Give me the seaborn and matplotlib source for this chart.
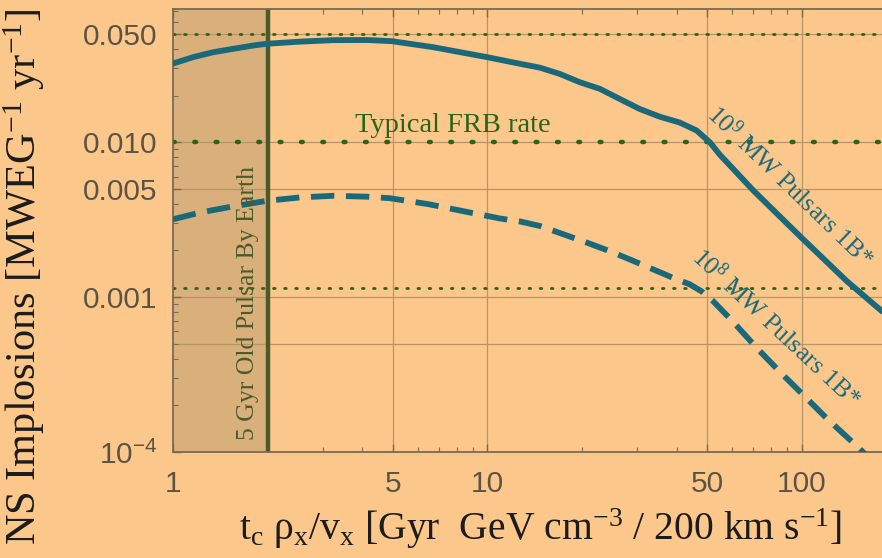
import numpy as np
import pandas as pd
import matplotlib
matplotlib.use("Agg")
import matplotlib.pyplot as plt
import seaborn as sns

# ---- data ----
x_solid = [1.0, 1.158, 1.342, 1.555, 1.8, 1.98, 2.53, 3.23, 4.14, 4.97, 6.71, 9.99, 12.69,
           14.69, 17.0, 19.68, 22.8, 26.4, 30.5, 35.4, 40.9, 46.3, 51.0, 54.9, 60.2, 70.0,
           100.0, 139.0, 180.0]
y_solid = [0.0322, 0.0354, 0.0381, 0.0401, 0.0421, 0.0432, 0.0446, 0.0456, 0.0457, 0.0449,
           0.0411, 0.0354, 0.0321, 0.0303, 0.0276, 0.0244, 0.0221, 0.0190, 0.0164, 0.0146,
           0.0134, 0.0119, 0.0100, 0.0083, 0.0068, 0.0049, 0.00241, 0.00127, 0.00081]
x_dash = [1.0, 1.215, 1.518, 1.98, 2.53, 3.23, 4.14, 4.9, 6.5, 8.6, 10.95, 12.69, 14.69,
          17.4, 20.7, 24.5, 28.4, 33.7, 39.0, 44.0, 48.0, 52.3, 60.2, 71.9, 85.1, 98.3,
          120.0, 152.8, 180.0]
y_dash = [0.00318, 0.00351, 0.00382, 0.00418, 0.00440, 0.00451, 0.00445, 0.00435, 0.00398,
          0.00355, 0.00322, 0.00308, 0.00288, 0.00255, 0.00225, 0.00198, 0.00175, 0.00151,
          0.00133, 0.00121, 0.00109, 0.00094, 0.00070, 0.00047, 0.00033, 0.000247,
          0.000165, 0.000105, 0.000075]
earth_age = 2.0
frb_rate = 0.01
ref_upper = 0.05
ref_lower = 0.00115
x_ticks = [1, 5, 10, 50, 100]
x_ticklabels = ["1", "5", "10", "50", "100"]
y_ticks = [1e-4, 1e-3, 5e-3, 1e-2, 5e-2]
y_ticklabels = [r"$\mathsf{10^{-4}}$", "0.001", "0.005", "0.010", "0.050"]

df_solid = pd.DataFrame({"x": x_solid, "y": y_solid})
df_dash = pd.DataFrame({"x": x_dash, "y": y_dash})

sns.set_theme(style="ticks")
plt.rcParams["font.family"] = ["Liberation Sans", "DejaVu Sans"]
plt.rcParams["mathtext.fontset"] = "custom"
plt.rcParams["mathtext.rm"] = "Liberation Serif"
plt.rcParams["mathtext.it"] = "Liberation Serif:italic"
plt.rcParams["mathtext.sf"] = "Liberation Sans"

BG = "#fcc78b"
SHADE = "#d9b07c"
TEAL = "#19697a"
OLIVE = "#4b5a2a"
GREEN = "#2a6418"
GRID = "#b89468"
FRAME = "#7a6a52"
TICKC = "#5a5346"

fig = plt.figure(figsize=(8.82, 5.58), dpi=100)
fig.patch.set_facecolor(BG)
ax = fig.add_axes([173 / 882, 1 - 452 / 558, 1 - 173 / 882, (452 - 8.5) / 558])
ax.set_facecolor(BG)
ax.set_xscale("log")
ax.set_yscale("log")
ax.set_xlim(1, 180)
ax.set_ylim(1e-4, 0.073)

# shaded region and grid
ax.axvspan(1, earth_age, color=SHADE, zorder=0, lw=0)
for gx in [5, 10, 50, 100]:
    ax.axvline(gx, color=GRID, lw=0.9, zorder=0.5)
for gy in [5e-4, 1e-3, 5e-3, 1e-2, 5e-2]:
    ax.axhline(gy, color=GRID, lw=0.9, zorder=0.5)

# reference dotted lines
ax.axhline(ref_upper, color=GREEN, lw=2.0, ls=(0, (0.6, 3.4)), zorder=1, dash_capstyle="round")
ax.axhline(frb_rate, color=GREEN, lw=3.2, ls=(0, (0.4, 4.4)), zorder=1, dash_capstyle="round")
ax.axhline(ref_lower, color=GREEN, lw=2.0, ls=(0, (0.6, 3.4)), zorder=1, dash_capstyle="round")

# curves
sns.lineplot(data=df_solid, x="x", y="y", ax=ax, color=TEAL, lw=4.2, zorder=3)
sns.lineplot(data=df_dash, x="x", y="y", ax=ax, color=TEAL, lw=4.2, zorder=3)
ax.lines[-1].set_dashes((4.0, 2.0))
for ln in ax.lines[-2:]:
    ln.set_solid_joinstyle("round")
    ln.set_dash_joinstyle("round")

ax.axvline(earth_age, color=OLIVE, lw=3.2, zorder=2)

# annotations
ax.text(7.77, 0.0128, "Typical FRB rate", family=["Liberation Serif"], fontsize=20.5,
        color=GREEN, ha="center", va="center")
ax.text(1.73, 0.00091, "5 Gyr Old Pulsar By Earth", family=["Liberation Serif"], fontsize=18.5,
        color=OLIVE, ha="center", va="center", rotation=90)
ax.text(92.0, 0.0052, r"10$^{9}$ MW Pulsars 1B*", family=["Liberation Serif"], fontsize=18.5,
        color=TEAL, ha="center", va="center", rotation=-44, rotation_mode="anchor")
ax.text(83.0, 0.00063, r"10$^{8}$ MW Pulsars 1B*", family=["Liberation Serif"], fontsize=18.5,
        color=TEAL, ha="center", va="center", rotation=-43, rotation_mode="anchor")

# axes styling
for side in ["left", "bottom", "top"]:
    ax.spines[side].set_color(FRAME)
    ax.spines[side].set_linewidth(1.3)
ax.spines["right"].set_visible(False)

ax.set_xticks(x_ticks)
ax.set_xticklabels(x_ticklabels)
ax.set_yticks(y_ticks)
ax.set_yticklabels(y_ticklabels)
ax.tick_params(axis="both", which="major", direction="in", length=6, width=1, color=FRAME,
               top=True, labelcolor=TICKC)
ax.tick_params(axis="both", which="minor", direction="in", length=3.5, width=0.8, color=FRAME,
               top=True)
ax.tick_params(axis="x", which="major", labelsize=21.5, pad=13)
ax.tick_params(axis="y", which="major", labelsize=21.5, pad=11)
ax.yaxis.set_minor_formatter(matplotlib.ticker.NullFormatter())
ax.xaxis.set_minor_formatter(matplotlib.ticker.NullFormatter())

ax.set_xlabel(r"t$_\mathrm{c}$ ρ$_\mathrm{x}$/v$_\mathrm{x}$ [Gyr  GeV cm$^{\mathrm{-3}}$ / 200 km s$^{\mathrm{-1}}$]",
              family=["Liberation Serif"], fontsize=28.5, color="#1c1c1c", va="top")
ax.xaxis.set_label_coords(0.518, -0.122)
ax.set_ylabel(r"NS Implosions [MWEG$^{\mathrm{-1}}$ yr$^{\mathrm{-1}}$]", family=["Liberation Serif"],
              fontsize=30.5, color="#1c1c1c")
ax.yaxis.set_label_coords(-0.178, 0.395)

fig.savefig("out.png", dpi=100, facecolor=BG)
